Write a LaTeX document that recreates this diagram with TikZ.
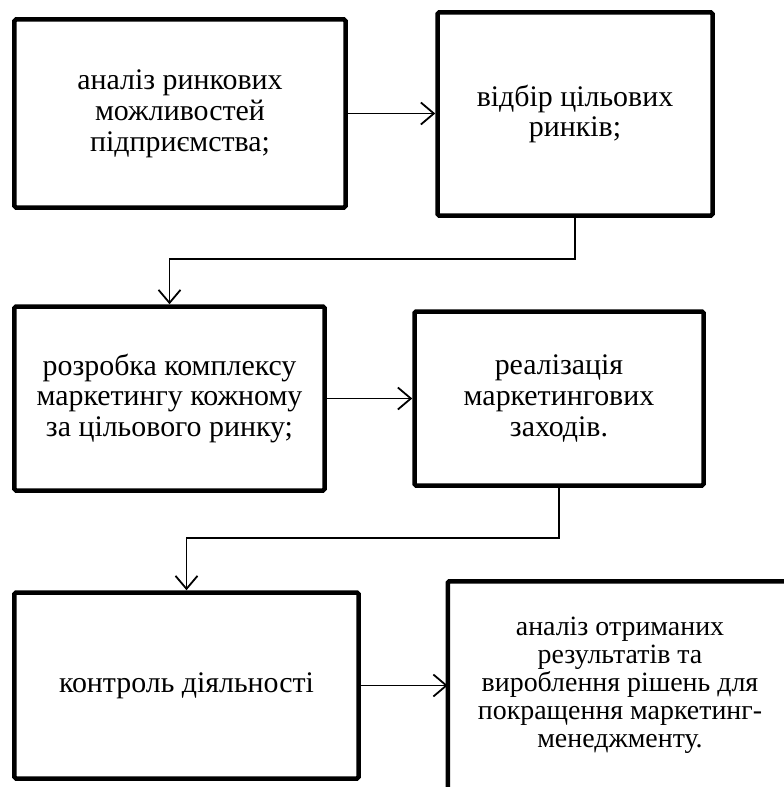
\documentclass[tikz,border=0pt]{standalone}
\usepackage{fontspec}
\setmainfont{Liberation Serif}
\usepackage{tikz}
\usetikzlibrary{arrows.meta,calc}

\begin{document}
\begin{tikzpicture}[x=1bp, y=-1bp,
    blok/.style={draw, line width=4.5bp, rounded corners=1.5bp, align=center,
                 inner sep=0pt, font=\fontsize{30}{31}\selectfont},
    strilka/.style={line width=1.8bp, -{Straight Barb[length=13bp,width=22bp]}}]

        \useasboundingbox (0,0) rectangle (784,787);

         % first row
         \node[blok, minimum width=331bp, minimum height=188bp] (analiz) at (180,113.5)
              {аналіз ринкових\\можливостей\\підприємства;};
         \node[blok, minimum width=275bp, minimum height=203bp] (vidbir) at (575,114)
              {відбір цільових\\ринків;};

         % second row
         \node[blok, minimum width=310bp, minimum height=184bp] (rozrobka) at (169.5,398.5)
              {розробка комплексу\\маркетингу кожному\\за цільового ринку;};
         \node[blok, minimum width=289bp, minimum height=174bp] (realiz) at (559,398.5)
              {реалізація\\маркетингових\\заходів.};

         % third row
         \node[blok, minimum width=344bp, minimum height=186bp] (kontrol) at (186.5,685.5)
              {контроль діяльності};
         \node[blok, draw=none, font=\fontsize{28}{28}\selectfont,
               minimum width=340bp, minimum height=203bp] (rezult) at (620,685)
              {аналіз отриманих\\результатів та\\вироблення рішень для\\покращення маркетинг-\\менеджменту.};
         % last box runs over the page edge: only its left and top sides show
         \draw[line width=4.5bp, rounded corners=1.5bp]
              ($(rezult.south west)+(0,30)$) |- ($(rezult.north east)+(30,0)$);

         % connectors
         \draw[strilka] (analiz.east) -- (analiz.east -| vidbir.west);
         \draw[strilka] (vidbir.south) -- ++(0,41) -| (rozrobka.north);
         \draw[strilka] (rozrobka.east) -- (rozrobka.east -| realiz.west);
         \draw[strilka] (realiz.south) -- ++(0,50) -| (kontrol.north);
         \draw[strilka] (kontrol.east) -- (kontrol.east -| rezult.west);

    \end{tikzpicture}
\end{document}
